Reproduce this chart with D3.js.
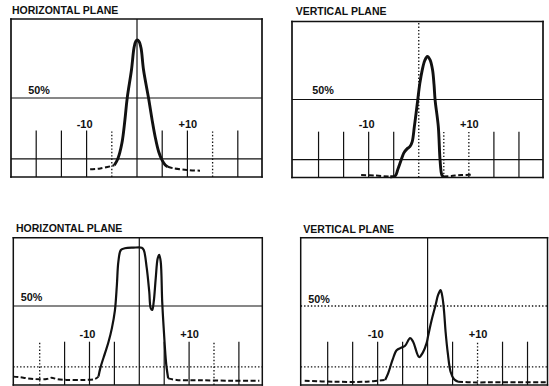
<!DOCTYPE html>
<html><head><meta charset="utf-8">
<script src="https://cdn.jsdelivr.net/npm/d3@7"></script>
<style>html,body{margin:0;padding:0;background:#fff;} svg{display:block;}</style>
</head><body>
<svg id="chart" width="549" height="386"></svg>
<script>
// ---------- data ----------
const panelTitles = ["HORIZONTAL PLANE", "VERTICAL PLANE", "HORIZONTAL PLANE", "VERTICAL PLANE"];
const tickValues = [-20, -15, -10, -5, 0, 5, 10, 15, 20];
const levelValues = [50, 11.5];
const levelLabel = "50%";
const tickLabelValues = [-10, 10];
const tickLabels = ["-10", "+10"];

// [angle, % level]
const p1Left  = [[-9.3,4.9],[-7.3,5.4],[-4.5,7.4]];
const p1Main  = [[-4.5,7.4],[-3.8,11.5],[-3.0,21.3],[-2.4,36.1],[-1.95,49.8],[-1.1,67.7],[-0.6,81.6],[-0.26,85.8],[0.06,86.7],[0.4,85.8],[0.8,81.6],[1.3,67.7],[2.3,49.8],[3.0,36],[3.6,25.5],[4.3,16],[5.0,10.5],[5.6,7.6],[6.1,6.5]];
const p1Right = [[6.1,6.5],[7.2,5.5],[9.9,4.4],[12.5,4.0]];

const p2Left  = [[-11.5,1.6],[-8.7,1.3],[-5.7,0.5]];
const p2Main  = [[-5.7,0.5],[-4.7,1],[-4.2,5],[-3.5,11.3],[-3.0,15.6],[-2.3,18.5],[-1.74,19.9],[-1.3,23],[-0.88,32.6],[-0.5,42],[-0.2,49.8],[0.2,60],[0.7,69],[1.2,75],[1.72,77.6],[2.26,75.4],[2.75,69],[3.05,59.5],[3.26,49.8],[3.9,32.7],[4.25,11.3],[4.6,1.7],[4.9,0.6]];
const p2Right = [[4.9,0.6],[6.5,1.0],[8.5,1.6],[10.6,1.7]];

const p3Left  = [[-25.3,5.3],[-24,4.9],[-21.3,3.8],[-18.6,3.8],[-17.6,4.6],[-16.6,3.8],[-14.6,3.2],[-11.2,3.2],[-8.9,3.8],[-8.2,5.3]];
const p3Main  = [[-8.2,5.3],[-7.8,11],[-6.9,20],[-6.2,27],[-5.5,36],[-4.9,47],[-4.5,63.3],[-4.2,78],[-3.7,85.4],[-2.9,86.5],[-1.2,86.9],[0.5,86.9],[0.9,85.4],[1.5,73.9],[2.0,59],[2.3,48.5],[2.6,47.5],[2.9,52.7],[3.3,67.5],[3.7,80.2],[4.0,82.3],[4.3,78],[4.6,52.7],[4.9,35.9],[5.3,16.9],[5.5,10.6],[5.8,4.2]];
const p3Right = [[5.8,4.2],[7.5,3.2],[12.1,3.0],[18.8,2.7],[24.1,2.7]];

const p4Left  = [[-24.6,2.7],[-18.9,2.1],[-12.2,2.1],[-8.5,3.2]];
const p4Main  = [[-8.5,3.2],[-7.9,7.4],[-7.0,16],[-6.2,22],[-5.2,23.7],[-4.5,24.8],[-3.5,29.7],[-2.9,27.4],[-1.7,17.7],[-0.95,20.5],[-0.2,26.5],[0.1,31],[0.8,41],[1.6,50.6],[2.1,57],[2.6,60],[3.0,55],[3.3,46.4],[3.6,33.7],[4.05,20],[4.6,8.4],[5.3,3.6],[6.1,2.1]];
const p4Right = [[6.1,2.1],[9.1,1.7],[14.5,1.7],[24,1.7]];

// ---------- layout / style ----------
const panels = [
  {title: panelTitles[0], series: [p1Left, p1Main, p1Right],
   left: 11, right: 262, top: 19, bottom: 177, xMin: -25, xMax: 24.8, yMax: 100,
   tickTop: 29.4, centerDotted: false, levelDotted: [false, false], dottedTicks: [-5, 15],
   dashedTop: false, dashedLeft: false, curveW: 2.9, frameW: 1.7,
   titleX: 12, titleY: 14, pctX: 28.3, pctY: 94, tlY: 127.5},
  {title: panelTitles[1], series: [p2Left, p2Main, p2Right],
   left: 292, right: 543, top: 21.5, bottom: 177.5, xMin: -25.3, xMax: 24.8, yMax: 100,
   tickTop: 29.4, centerDotted: true, levelDotted: [false, false], dottedTicks: [5, 10],
   dashedTop: false, dashedLeft: false, curveW: 2.9, frameW: 1.7,
   titleX: 295.7, titleY: 14.7, pctX: 312.3, pctY: 94, tlY: 127.7},
  {title: panelTitles[2], series: [p3Left, p3Main, p3Right],
   left: 13.3, right: 262.3, top: 237.7, bottom: 385, xMin: -25.3, xMax: 24.7, yMax: 93.2,
   tickTop: 27.4, centerDotted: false, levelDotted: [false, true], dottedTicks: [-20, 15],
   dashedTop: true, dashedLeft: true, curveW: 2.2, frameW: 1.5,
   titleX: 16, titleY: 232, pctX: 20.7, pctY: 301, tlY: 337.7},
  {title: panelTitles[3], series: [p4Left, p4Main, p4Right],
   left: 300.7, right: 547.5, top: 237.7, bottom: 385, xMin: -25.4, xMax: 24, yMax: 93.2,
   tickTop: 27.4, centerDotted: false, levelDotted: [true, true], dottedTicks: [10],
   dashedTop: true, dashedLeft: false, curveW: 2.2, frameW: 1.5,
   titleX: 303.3, titleY: 232.7, pctX: 308.3, pctY: 302.7, tlY: 338}
];

const INK = "#111";
const DOT = "1.4,2";
const font = "'Liberation Sans', Arial, Helvetica, sans-serif";

const svg = d3.select("#chart");
svg.append("rect").attr("width", 549).attr("height", 386).attr("fill", "#fff");

panels.forEach(p => {
  const x = d3.scaleLinear().domain([p.xMin, p.xMax]).range([p.left, p.right]);
  const y = d3.scaleLinear().domain([0, p.yMax]).range([p.bottom, p.top]);
  const g = svg.append("g");

  // level lines
  g.selectAll("line.level").data(levelValues).join("line")
    .attr("class", "level")
    .attr("x1", x(p.xMin)).attr("x2", x(p.xMax))
    .attr("y1", d => y(d)).attr("y2", d => y(d))
    .attr("stroke", INK)
    .attr("stroke-width", (d, i) => p.levelDotted[i] ? 1.3 : 1.2)
    .attr("stroke-dasharray", (d, i) => p.levelDotted[i] ? DOT : null);

  // short ticks
  g.selectAll("line.tick").data(tickValues.filter(v => v !== 0)).join("line")
    .attr("class", "tick")
    .attr("x1", d => x(d)).attr("x2", d => x(d))
    .attr("y1", y(0)).attr("y2", y(p.tickTop))
    .attr("stroke", INK)
    .attr("stroke-width", d => p.dottedTicks.includes(d) ? 1.3 : 1.2)
    .attr("stroke-dasharray", d => p.dottedTicks.includes(d) ? DOT : null);

  // centre line
  g.append("line")
    .attr("x1", x(0)).attr("x2", x(0))
    .attr("y1", y(0)).attr("y2", y(p.yMax))
    .attr("stroke", INK)
    .attr("stroke-width", p.centerDotted ? 1.3 : 1.2)
    .attr("stroke-dasharray", p.centerDotted ? DOT : null);

  // frame
  const edges = [
    {x1: x(p.xMin), y1: y(p.yMax), x2: x(p.xMax), y2: y(p.yMax), dash: p.dashedTop ? "4,1.2" : null},
    {x1: x(p.xMax), y1: y(p.yMax), x2: x(p.xMax), y2: y(0), dash: null},
    {x1: x(p.xMin), y1: y(0), x2: x(p.xMax), y2: y(0), dash: null},
    {x1: x(p.xMin), y1: y(p.yMax), x2: x(p.xMin), y2: y(0), dash: p.dashedLeft ? "4,1.2" : null}
  ];
  g.selectAll("line.frame").data(edges).join("line")
    .attr("class", "frame")
    .attr("x1", d => d.x1).attr("y1", d => d.y1)
    .attr("x2", d => d.x2).attr("y2", d => d.y2)
    .attr("stroke", INK).attr("stroke-width", p.frameW)
    .attr("stroke-dasharray", d => d.dash)
    .attr("stroke-linecap", "square");

  // curves
  const line = d3.line().x(d => x(d[0])).y(d => y(d[1])).curve(d3.curveCatmullRom.alpha(0.5));
  p.series.forEach((s, i) => {
    g.append("path")
      .attr("d", line(s))
      .attr("fill", "none")
      .attr("stroke", INK)
      .attr("stroke-width", i === 1 ? p.curveW : 2.0)
      .attr("stroke-linejoin", "round")
      .attr("stroke-dasharray", i === 1 ? null : "5,2.5");
  });

  // texts
  g.append("text").text(p.title)
    .attr("x", p.titleX).attr("y", p.titleY)
    .attr("font-family", font).attr("font-weight", "bold").attr("font-size", 10.5)
    .attr("fill", INK);
  g.append("text").text(levelLabel)
    .attr("x", p.pctX).attr("y", p.pctY)
    .attr("font-family", font).attr("font-weight", "bold").attr("font-size", 10.8)
    .attr("fill", INK);
  g.selectAll("text.tl").data(tickLabelValues).join("text")
    .attr("class", "tl")
    .text((d, i) => tickLabels[i])
    .attr("x", d => x(d) + (d < 0 ? -2 : 0.5))
    .attr("y", p.tlY)
    .attr("text-anchor", "middle")
    .attr("font-family", font).attr("font-weight", "bold").attr("font-size", 11)
    .attr("fill", INK);
});
</script>
</body></html>
